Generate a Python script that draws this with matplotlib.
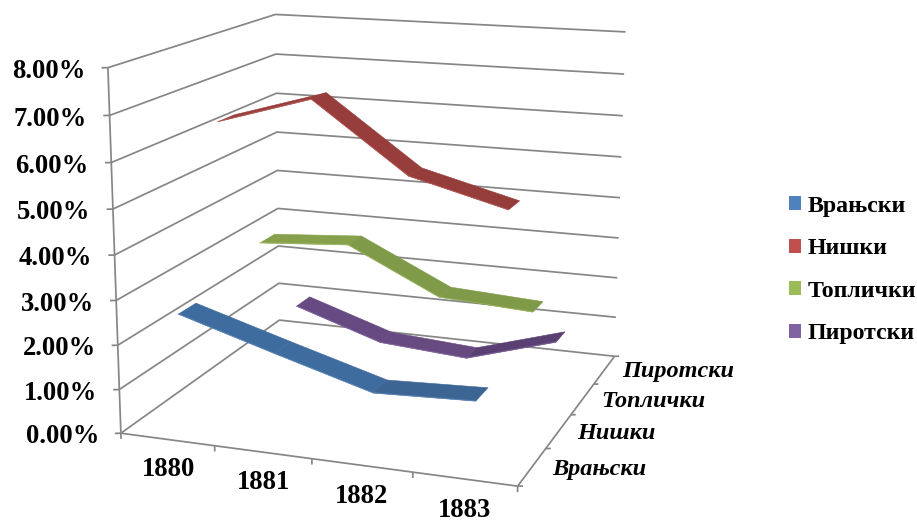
import numpy as np
import matplotlib
matplotlib.use("Agg")
import matplotlib.pyplot as plt
from matplotlib.patches import Patch
from mpl_toolkits.mplot3d import Axes3D, proj3d
from mpl_toolkits.mplot3d.art3d import Poly3DCollection

years = ["1880", "1881", "1882", "1883"]
vranjski = [2.63, 1.99, 1.37, 1.46]
niski = [6.43, 7.07, 5.54, 4.98]
toplicki = [3.12, 3.27, 2.23, 2.10]
pirotski = [0.94, 0.23, 0.07, 0.72]
series_names = ["Врањски", "Нишки", "Топлички", "Пиротски"]
series_values = [vranjski, niski, toplicki, pirotski]
value_ticks = [0, 1, 2, 3, 4, 5, 6, 7, 8]
legend_colors = ["#4F81BD", "#C0504D", "#9BBB59", "#8064A2"]
# per segment top-face shading of each ribbon
ribbon_colors = [
    ["#3F6C9E", "#3F6C9E", "#3C6594"],
    ["#973E3C", "#973E3C", "#953D3B"],
    ["#86A04C", "#7F9A48", "#7F9A48"],
    ["#684A82", "#664A80", "#5A3F72"],
]
edge_colors = ["#6FA0DC", "#DC6A66", "#B5D56E", "#9B7CC2"]

W, H = 917, 523
# camera matrix fitted to the chart's box: world (category, series, value) -> pixels
CAMERA = np.array([
    [89.866183, 53.896392, -2.286771, 120.89551],
    [4.471132, -11.916539, -46.108025, 433.213158],
    [-0.018018, 0.051117, -0.006138, 1.0],
])

plt.rcParams["font.family"] = ["Liberation Serif", "DejaVu Serif"]
fig = plt.figure(figsize=(W / 100, H / 100), dpi=100, facecolor="white")
ax = fig.add_axes([0, 0, 1, 1], projection="3d", computed_zorder=False)
ax.set_proj_type("ortho")
ax.set_position([0, 0, 1, 1])
ax.apply_aspect = lambda position=None: None
ax.set_axis_off()
ax.patch.set_visible(False)


def camera_proj():
    x0, x1 = ax.viewLim.intervalx
    y0, y1 = ax.viewLim.intervaly
    M = np.array([CAMERA[0], CAMERA[1], [0.001, 0.002, 0.0001, 0.0], CAMERA[2]])
    N = np.array([
        [(x1 - x0) / W, 0, 0, x0],
        [0, -(y1 - y0) / H, 0, y1],
        [0, 0, 1, 0],
        [0, 0, 0, 1],
    ])
    return N @ M


ax.get_proj = camera_proj

n_cat = len(years)
n_ser = len(series_names)
zmax = value_ticks[-1]
GRID = "#868686"
glw = 1.25


def line3(xs, ys, zs, **kw):
    ax.plot(xs, ys, zs, color=GRID, lw=glw, zorder=1, solid_capstyle="butt", **kw)


def label3(x, y, z, s, **kw):
    px, py, _ = proj3d.proj_transform(np.array([x], float), np.array([y], float),
                                      np.array([z], float), camera_proj())
    ax.text2D(float(px[0]), float(py[0]), s, transform=ax.transData,
              color="black", zorder=6, fontweight="bold", **kw)


for v in value_ticks:
    line3([0, 0, n_cat], [0, n_ser, n_ser], [v, v, v])
    line3([-0.053, 0], [-0.025, 0], [v, v])
    label3(-0.19, -0.09, v - 0.07, f"{v:.2f}%", fontsize=19.2, ha="right", va="center")
line3([0, 0], [0, 0], [0, zmax])
line3([0, n_cat, n_cat], [0, 0, n_ser], [0, 0, 0])
for i in range(n_cat + 1):
    line3([i, i], [0, 0], [0, -0.13])
for j in range(n_ser + 1):
    line3([n_cat, n_cat + 0.045], [j, j + 0.019], [0, 0])

for i, y in enumerate(years):
    label3(i + 0.5, 0, -0.69, y, fontsize=19.2, ha="center", va="center")
for j, name in enumerate(series_names):
    label3(n_cat + 0.19, j + 0.5, 0.0, name, fontsize=17.5, fontstyle="italic",
           ha="left", va="center")

half = 0.2
for j in reversed(range(n_ser)):
    vals = series_values[j]
    z_base = 10 + (n_ser - j)
    for i in range(n_cat - 1):
        a, b = i + 0.5, i + 1.5
        quad = [(a, j + 0.5 - half, vals[i]), (b, j + 0.5 - half, vals[i + 1]),
                (b, j + 0.5 + half, vals[i + 1]), (a, j + 0.5 + half, vals[i])]
        poly = Poly3DCollection([quad], facecolors=ribbon_colors[j][i],
                                edgecolors=ribbon_colors[j][i], linewidths=0.4,
                                zorder=z_base)
        ax.add_collection3d(poly)
    ax.plot(np.arange(n_cat) + 0.5, [j + 0.5 - half] * n_cat, vals,
            color=edge_colors[j], lw=0.6, alpha=0.4, zorder=z_base + 0.5)

handles = [Patch(facecolor=c, edgecolor="none", label=n)
           for c, n in zip(legend_colors, series_names)]
fig.legend(handles=handles, loc="center left", bbox_to_anchor=(789 / W, 1 - 270 / H),
           frameon=False, prop={"family": "Liberation Serif", "weight": "bold", "size": 17.2},
           handlelength=0.5, handleheight=0.5, handletextpad=0.27,
           labelspacing=0.9, borderpad=0, borderaxespad=0)

fig.savefig("out.png", dpi=100, facecolor="white")
